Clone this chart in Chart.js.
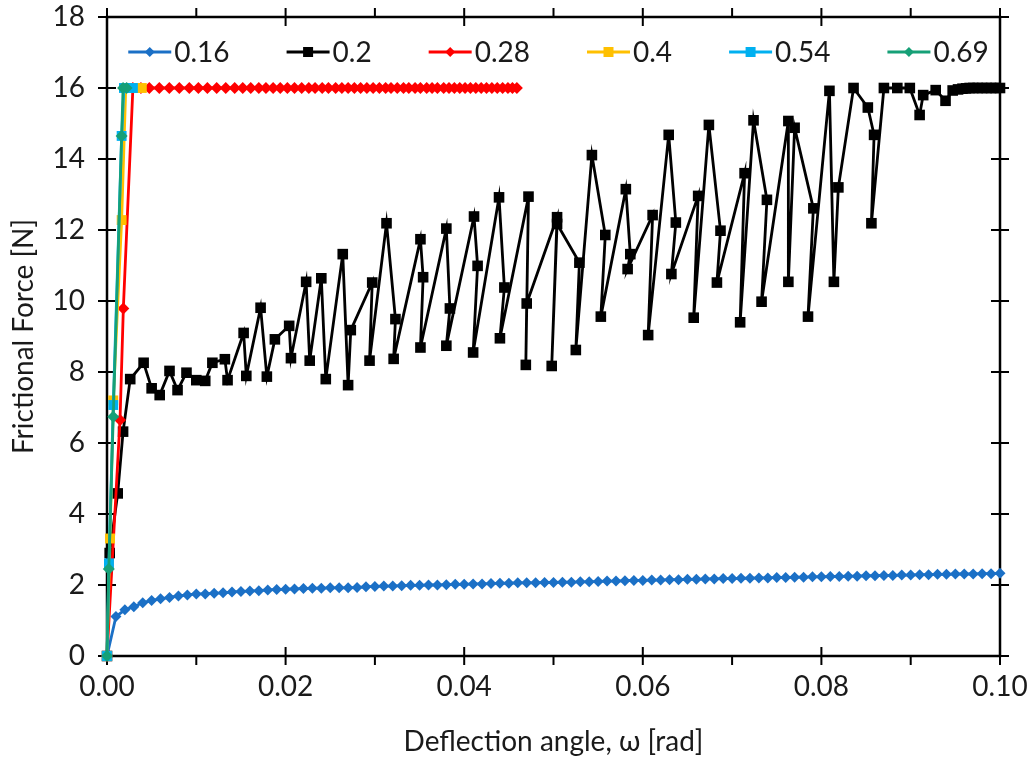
<!DOCTYPE html>
<html>
<head>
<meta charset="utf-8">
<script src="https://cdn.jsdelivr.net/npm/chart.js@4.4.1/dist/chart.umd.min.js"></script>
<style>
  html, body { margin: 0; padding: 0; background: #fff; }
  #wrap { width: 1030px; height: 759px; }
</style>
</head>
<body>
<div id="wrap"><canvas id="myChart" width="1030" height="759"></canvas></div>
<script>
/* global Chart */

// legend names (friction coefficient)
const seriesNames = ['0.16', '0.2', '0.28', '0.4', '0.54', '0.69'];

// 0.16
const angle016 = [0, 0.001, 0.002, 0.003, 0.004, 0.005, 0.006, 0.007, 0.008, 0.009,
  0.010, 0.011, 0.012, 0.013, 0.014, 0.015, 0.016, 0.017, 0.018, 0.019,
  0.020, 0.021, 0.022, 0.023, 0.024, 0.025, 0.026, 0.027, 0.028, 0.029,
  0.030, 0.031, 0.032, 0.033, 0.034, 0.035, 0.036, 0.037, 0.038, 0.039,
  0.040, 0.041, 0.042, 0.043, 0.044, 0.045, 0.046, 0.047, 0.048, 0.049,
  0.050, 0.051, 0.052, 0.053, 0.054, 0.055, 0.056, 0.057, 0.058, 0.059,
  0.060, 0.061, 0.062, 0.063, 0.064, 0.065, 0.066, 0.067, 0.068, 0.069,
  0.070, 0.071, 0.072, 0.073, 0.074, 0.075, 0.076, 0.077, 0.078, 0.079,
  0.080, 0.081, 0.082, 0.083, 0.084, 0.085, 0.086, 0.087, 0.088, 0.089,
  0.090, 0.091, 0.092, 0.093, 0.094, 0.095, 0.096, 0.097, 0.098, 0.099, 0.100];
const force016 = [0, 1.11, 1.30, 1.39, 1.50, 1.56, 1.61, 1.65, 1.69, 1.72,
  1.75, 1.75, 1.77, 1.78, 1.80, 1.82, 1.83, 1.84, 1.86, 1.87,
  1.88, 1.89, 1.90, 1.91, 1.91, 1.92, 1.92, 1.92, 1.93, 1.95,
  1.96, 1.97, 1.97, 1.98, 1.99, 1.99, 2.00, 2.00, 2.01, 2.02,
  2.02, 2.03, 2.03, 2.04, 2.05, 2.05, 2.06, 2.06, 2.06, 2.07,
  2.07, 2.08, 2.08, 2.09, 2.09, 2.10, 2.11, 2.11, 2.12, 2.13,
  2.13, 2.14, 2.14, 2.15, 2.15, 2.16, 2.16, 2.17, 2.17, 2.18,
  2.18, 2.19, 2.19, 2.20, 2.20, 2.21, 2.21, 2.22, 2.22, 2.23,
  2.23, 2.24, 2.24, 2.25, 2.25, 2.26, 2.26, 2.27, 2.27, 2.28,
  2.28, 2.29, 2.29, 2.30, 2.30, 2.31, 2.31, 2.31, 2.32, 2.32, 2.33];

// 0.2
const angle02 = [0, 0.0003, 0.0012, 0.0018, 0.0026, 0.0041, 0.0050, 0.0059, 0.0070, 0.0079,
  0.0089, 0.0100, 0.0110, 0.0118, 0.0132, 0.0135, 0.0153, 0.0156, 0.0172, 0.0179,
  0.0188, 0.0204, 0.0206, 0.0223, 0.0227, 0.0240, 0.0245, 0.0264, 0.0270, 0.0273,
  0.0297, 0.0294, 0.0313, 0.0323, 0.0321, 0.0351, 0.0354, 0.0351, 0.0380, 0.0384,
  0.0380, 0.0411, 0.0415, 0.0410, 0.0439, 0.0445, 0.0440, 0.0472, 0.0469, 0.0470,
  0.0504, 0.0498, 0.0504, 0.0529, 0.0525, 0.0543, 0.0558, 0.0553, 0.0581, 0.0586,
  0.0583, 0.0611, 0.0606, 0.0629, 0.0637, 0.0632, 0.0662, 0.0657, 0.0674, 0.0687,
  0.0683, 0.0714, 0.0709, 0.0724, 0.0739, 0.0733, 0.0763, 0.0763, 0.0770, 0.0791,
  0.0785, 0.0809, 0.0814, 0.0819, 0.0836, 0.0852, 0.0859, 0.0856, 0.0870, 0.0885,
  0.0899, 0.0910, 0.0914, 0.0928, 0.0939, 0.0947, 0.0953, 0.0958, 0.0962, 0.0966,
  0.0970, 0.0975, 0.0980, 0.0985, 0.0990, 0.0995, 0.1000];
const force02 = [0, 2.90, 4.58, 6.32, 7.80, 8.26, 7.54, 7.35, 8.03, 7.49,
  7.98, 7.77, 7.75, 8.26, 8.36, 7.77, 9.10, 7.89, 9.81, 7.87,
  8.92, 9.30, 8.39, 10.54, 8.32, 10.64, 7.80, 11.32, 7.63, 9.18,
  10.52, 8.32, 12.19, 9.49, 8.37, 11.74, 10.67, 8.69, 12.04, 9.79,
  8.74, 12.38, 10.99, 8.55, 12.92, 10.38, 8.95, 12.94, 8.20, 9.93,
  12.36, 8.17, 12.17, 11.08, 8.62, 14.11, 11.86, 9.56, 13.15, 11.32,
  10.90, 12.42, 9.04, 14.68, 12.21, 10.76, 12.96, 9.53, 14.96, 11.98,
  10.52, 13.60, 9.40, 15.09, 12.85, 9.98, 15.07, 10.54, 14.88, 12.61,
  9.56, 15.92, 10.54, 13.20, 16.00, 15.45, 14.68, 12.19, 16.00, 16.00,
  16.00, 15.24, 15.80, 15.94, 15.64, 15.93, 15.96, 15.98, 15.99, 16.00,
  16.00, 16.00, 16.00, 16.00, 16.00, 16.00, 16.00];

// 0.28
const angle028 = [0, 0.00146, 0.00183, 0.0029, 0.0038, 0.00474, 0.00586, 0.00698, 0.0081, 0.00922,
  0.01023, 0.01124, 0.01228, 0.0133, 0.0143, 0.0152, 0.0161, 0.0170, 0.0178, 0.0186,
  0.0194, 0.0202, 0.0210, 0.0218, 0.0226, 0.0233, 0.0241, 0.0248, 0.0256, 0.0263,
  0.0270, 0.0277, 0.0284, 0.0291, 0.0298, 0.0305, 0.0312, 0.0318, 0.0325, 0.0332,
  0.0338, 0.0345, 0.0351, 0.0358, 0.0364, 0.0370, 0.0377, 0.0383, 0.0389, 0.0395,
  0.0401, 0.0407, 0.0413, 0.0419, 0.0425, 0.0431, 0.0437, 0.0443, 0.0449, 0.0454,
  0.0459];
const force028 = [0, 6.65, 9.79, 16, 16, 16, 16, 16, 16, 16,
  16, 16, 16, 16, 16, 16, 16, 16, 16, 16,
  16, 16, 16, 16, 16, 16, 16, 16, 16, 16,
  16, 16, 16, 16, 16, 16, 16, 16, 16, 16,
  16, 16, 16, 16, 16, 16, 16, 16, 16, 16,
  16, 16, 16, 16, 16, 16, 16, 16, 16, 16,
  16];

// 0.4
const angle04 = [0, 0.00034, 0.0007, 0.00164, 0.0021, 0.0030, 0.0039];
const force04 = [0, 3.31, 7.20, 12.28, 16, 16, 16];

// 0.54
const angle054 = [0, 0.00022, 0.0007, 0.00164, 0.0019, 0.0029];
const force054 = [0, 2.61, 7.07, 14.65, 16, 16];

// 0.69
const angle069 = [0, 0.0002, 0.0007, 0.00164, 0.0018, 0.0022];
const force069 = [0, 2.45, 6.74, 14.65, 16, 16];

const FONT = 'Lato';
const TEXT = '#1a1a1a';

function pts(xs, ys) {
  return xs.map(function(x, i) { return { x: x, y: ys[i] }; });
}

function series(i, xs, ys, color, style, r) {
  return {
    label: seriesNames[i],
    data: pts(xs, ys),
    borderColor: color,
    backgroundColor: color,
    borderWidth: 2.8,
    pointStyle: style,
    pointRadius: r,
    pointHoverRadius: r,
    pointBorderWidth: 0,
    pointBackgroundColor: color,
    tension: 0,
    clip: false,
    order: 5 - i,
    legendRadius: 5
  };
}

// frame and tick marks on all four sides
const framePlugin = {
  id: 'frame',
  beforeDatasetsDraw(chart) {
    const ctx = chart.ctx;
    const a = chart.chartArea;
    const xs = chart.scales.x, ys = chart.scales.y;
    ctx.save();
    ctx.strokeStyle = '#000';
    ctx.lineWidth = 2.5;
    ctx.strokeRect(a.left, a.top, a.right - a.left, a.bottom - a.top);
    ctx.lineWidth = 2;
    ctx.beginPath();
    xs.ticks.forEach(function(t) {
      const px = xs.getPixelForValue(t.value);
      const major = Math.round(t.value * 1000) % 20 === 0;
      ctx.moveTo(px, a.bottom - (major ? 9 : 0));
      ctx.lineTo(px, a.bottom + 9);
      ctx.moveTo(px, a.top + (major ? 9 : 0));
      ctx.lineTo(px, a.top - 9);
    });
    ys.ticks.forEach(function(t) {
      const py = ys.getPixelForValue(t.value);
      const major = Math.round(t.value) % 2 === 0;
      ctx.moveTo(a.left + (major ? 9 : 0), py);
      ctx.lineTo(a.left - 9, py);
      ctx.moveTo(a.right - (major ? 9 : 0), py);
      ctx.lineTo(a.right + 9, py);
    });
    ctx.stroke();
    ctx.restore();
  }
};

function marker(ctx, style, x, y, r) {
  ctx.beginPath();
  if (style === 'rect') {
    ctx.rect(x - r, y - r, 2 * r, 2 * r);
  } else {
    ctx.moveTo(x, y - r);
    ctx.lineTo(x + r, y);
    ctx.lineTo(x, y + r);
    ctx.lineTo(x - r, y);
    ctx.closePath();
  }
  ctx.fill();
}

// one-row legend inside the plot, like the spreadsheet one
const legendPlugin = {
  id: 'rowLegend',
  afterDraw(chart) {
    const ctx = chart.ctx;
    const a = chart.chartArea;
    const lineLen = 43, textGap = 3, gap = 57;
    ctx.save();
    ctx.font = '28px ' + FONT;
    const items = chart.data.datasets.map(function(ds) {
      return { ds: ds, w: lineLen + textGap + ctx.measureText(ds.label).width };
    });
    const total = items.reduce(function(s, it) { return s + it.w; }, 0) + gap * (items.length - 1);
    let x = (a.left + a.right) / 2 - total / 2 + 5;
    const y = a.top + 35;
    items.forEach(function(it) {
      const ds = it.ds;
      ctx.strokeStyle = ds.borderColor;
      ctx.fillStyle = ds.borderColor;
      ctx.lineWidth = 2.8;
      ctx.beginPath();
      ctx.moveTo(x, y);
      ctx.lineTo(x + lineLen, y);
      ctx.stroke();
      marker(ctx, ds.pointStyle, x + lineLen / 2, y, ds.legendRadius);
      ctx.fillStyle = TEXT;
      ctx.textBaseline = 'middle';
      ctx.textAlign = 'left';
      ctx.fillText(ds.label, x + lineLen + textGap, y + 1);
      x += it.w + gap;
    });
    ctx.restore();
  }
};

const ctx = document.getElementById('myChart').getContext('2d');

const chart = new Chart(ctx, {
  type: 'line',
  data: {
    datasets: [
      series(0, angle016, force016, '#1b70c6', 'rectRot', 5.5),
      series(1, angle02, force02, '#000000', 'rect', 7.5),
      series(2, angle028, force028, '#ff0000', 'rectRot', 6),
      series(3, angle04, force04, '#ffc000', 'rect', 7),
      series(4, angle054, force054, '#00b0f0', 'rect', 7),
      series(5, angle069, force069, '#16a077', 'rectRot', 6)
    ]
  },
  options: {
    responsive: false,
    animation: false,
    devicePixelRatio: 1,
    layout: { padding: { left: 0, right: 30, top: 17, bottom: 0 } },
    plugins: {
      legend: { display: false },
      tooltip: { enabled: false }
    },
    scales: {
      x: {
        type: 'linear',
        min: 0,
        max: 0.1,
        grid: { display: false, drawTicks: false },
        border: { display: false },
        ticks: {
          stepSize: 0.01,
          autoSkip: false,
          maxRotation: 0,
          padding: 14,
          color: TEXT,
          font: { family: FONT, size: 28 },
          callback: function(v) { return Math.round(v * 1000) % 20 === 0 ? v.toFixed(2) : ''; }
        },
        title: {
          display: true,
          text: 'Deflection angle, ω [rad]',
          color: TEXT,
          font: { family: FONT, size: 28 },
          padding: { top: 0, bottom: 0 }
        },
        afterFit: function(s) {
          s.height = 103;
          s.paddingLeft = 0;
          s.paddingRight = 0;
        }
      },
      y: {
        type: 'linear',
        min: 0,
        max: 18,
        grid: { display: false, drawTicks: false },
        border: { display: false },
        ticks: {
          stepSize: 1,
          padding: 22,
          color: TEXT,
          font: { family: FONT, size: 28 },
          callback: function(v) { return v % 2 === 0 ? String(v) : ''; }
        },
        title: {
          display: true,
          text: 'Frictional Force [N]',
          color: TEXT,
          font: { family: FONT, size: 28 },
          padding: { top: 7, bottom: 0 }
        },
        afterFit: function(s) {
          s.width = 107;
          s.paddingTop = 0;
          s.paddingBottom = 0;
        }
      }
    }
  },
  plugins: [framePlugin, legendPlugin]
});
</script>
</body>
</html>
